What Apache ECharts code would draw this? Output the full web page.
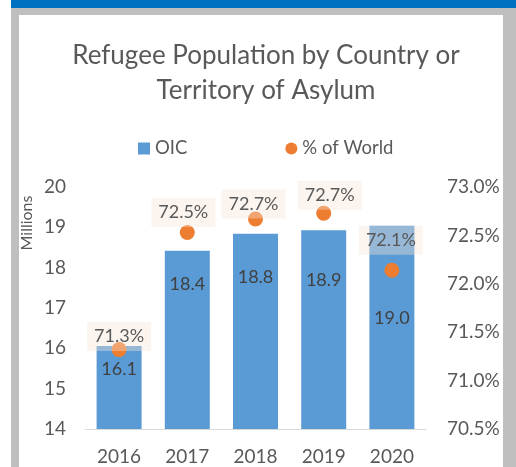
<!DOCTYPE html>
<html><head><meta charset="utf-8">
<script src="https://cdn.jsdelivr.net/npm/echarts@6/dist/echarts.min.js"></script>
<style>html,body{margin:0;padding:0;background:#fff}#c{width:516px;height:467px}</style>
</head><body><div id="c"></div>
<script>
const years = ['2016','2017','2018','2019','2020'];
const oicMillions = [16.06, 18.42, 18.84, 18.93, 19.04];
const pctOfWorld = [71.32, 72.53, 72.67, 72.73, 72.14];
const leftTicks = {min: 14, max: 20, interval: 1};
const rightTicks = {min: 70.5, max: 73.0, interval: 0.5};

// label placement (style only)
const barLabelDy = [23, 33, 43, 50, 92];
const pctLabelOffset = [[0,-13],[-4,-20],[-2,-15],[6,-18],[-1,-30]];

const txt = '#595959';
const font = 'Lato';
const chart = echarts.init(document.getElementById('c'), null, {renderer:'canvas'});
chart.setOption({
  backgroundColor: '#fff',
  animation: false,
  textStyle: {fontFamily: font},
  graphic: [
    {type:'rect', z:-100, shape:{x:11,y:0,width:505,height:8}, style:{fill:'#0070C0'}},
    {type:'rect', z:-100, shape:{x:11,y:8,width:505,height:459}, style:{fill:'#BFBFBF'}},
    {type:'rect', z:-99, shape:{x:19,y:15,width:484,height:452}, style:{fill:'#FFFFFF'}},
    {type:'text', z:10, x:27, y:223, rotation: Math.PI/2,
     style:{text:'Millions', fill:txt, font:'16px Lato', textAlign:'center', textVerticalAlign:'middle'}}
  ],
  title: {
    text: 'Refugee Population by Country or\nTerritory of Asylum',
    left: 261, textAlign: 'center', top: 33,
    textStyle: {fontFamily: font, fontSize: 26, fontWeight: 'normal', color: txt, lineHeight: 35}
  },
  legend: {
    left: 133, top: 134, itemGap: 98, itemWidth: 12, itemHeight: 12,
    textStyle: {fontFamily: font, fontSize: 18.5, color: txt},
    data: [{name:'OIC', icon:'rect'}, {name:'% of World', icon:'circle'}]
  },
  grid: {left: 85, right: 90, top: 187, bottom: 38},
  xAxis: {
    type: 'category', data: years,
    axisLine: {lineStyle: {color: '#D9D9D9', width: 1}},
    axisTick: {show: false},
    axisLabel: {color: txt, fontSize: 19, fontFamily: font, margin: 18}
  },
  yAxis: [
    {type:'value', min:leftTicks.min, max:leftTicks.max, interval:leftTicks.interval,
     splitLine:{show:false}, axisLine:{show:false}, axisTick:{show:false},
     axisLabel:{color:txt, fontSize:19, fontFamily:font, margin:19}},
    {type:'value', min:rightTicks.min, max:rightTicks.max, interval:rightTicks.interval,
     splitLine:{show:false}, axisLine:{show:false}, axisTick:{show:false},
     axisLabel:{color:txt, fontSize:19, fontFamily:font, margin:21, formatter: v => v.toFixed(1) + '%'}}
  ],
  series: [
    {
      name: 'OIC', type: 'bar', barWidth: 45, yAxisIndex: 0,
      itemStyle: {color: '#5B9BD5'},
      data: oicMillions.map((v, i) => ({
        value: v,
        label: {show: true, position: ['50%', barLabelDy[i]], align: 'center', verticalAlign: 'middle',
                formatter: p => p.value.toFixed(1), color: '#404040', fontSize: 18, fontFamily: font}
      }))
    },
    {
      name: '% of World', type: 'scatter', yAxisIndex: 1, symbol: 'circle', symbolSize: 15,
      itemStyle: {color: '#ED7D31', opacity: 1},
      z: 3,
      data: pctOfWorld.map((v, i) => ({
        value: v,
        label: {show: true, position: 'inside', offset: pctLabelOffset[i],
                formatter: p => p.value.toFixed(1) + '%', color: txt, fontSize: 18, fontFamily: font,
                backgroundColor: 'rgba(248,228,214,0.38)', padding: [6, 7, 5, 7]}
      }))
    }
  ]
});
</script></body></html>
